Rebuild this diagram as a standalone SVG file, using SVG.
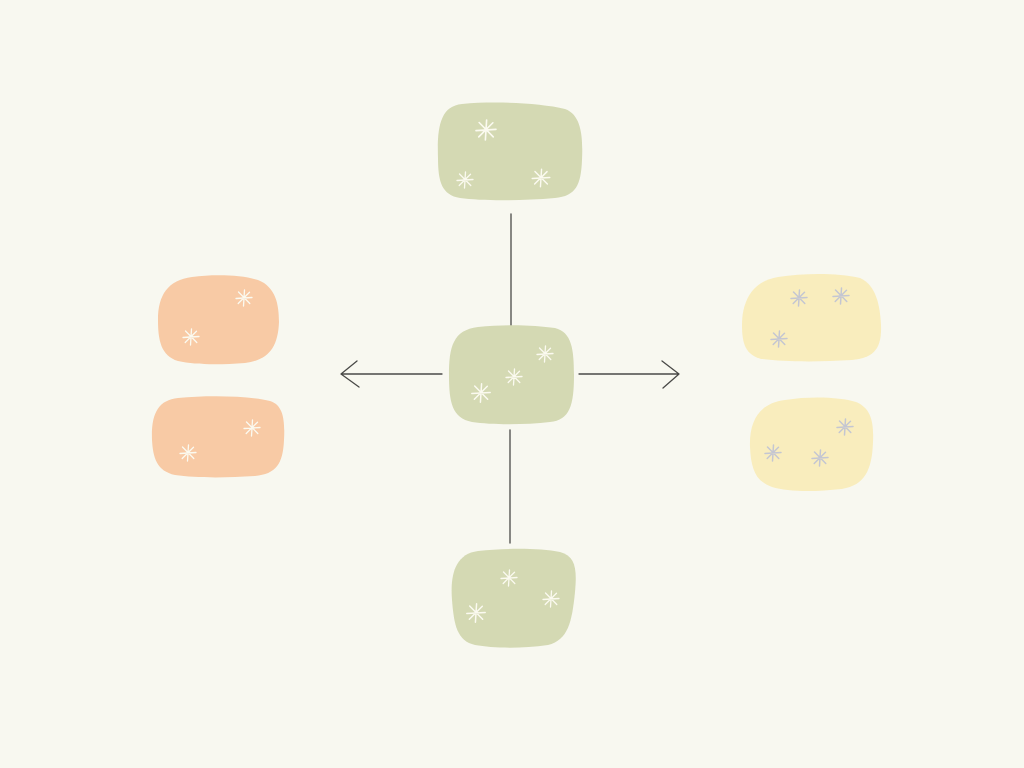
<svg xmlns="http://www.w3.org/2000/svg" xmlns:xlink="http://www.w3.org/1999/xlink" width="1024" height="768" viewBox="0 0 1024 768">
<defs>
<style>
.green{fill:#d4d9b3}
.orange{fill:#f8caa5}
.yellow{fill:#f9edbd}
.sp{stroke:#fbfaf0;stroke-width:1.3;stroke-linecap:round;fill:none}
.spg{stroke:#c4c6d2;stroke-width:1.5;stroke-linecap:round;fill:none}
.conn{stroke:#4a4a48;stroke-width:1.3;fill:none;stroke-linecap:round;stroke-linejoin:round}
</style>
<g id="star">
<path d="M0.5 -8 L-0.5 8 M-8 0.5 L8 -0.5 M-5.5 -6 L5.8 5.5 M-5.8 5.5 L5.5 -5.8"/>
</g>
</defs>
<rect width="1024" height="768" fill="#f8f8f0"/>

<g id="connectors">
<line class="conn" x1="511" y1="214" x2="511" y2="326"/>
<line class="conn" x1="510" y1="430" x2="510" y2="543"/>
<path class="conn" d="M442 374 L341 374 M357 361 L341 374 L359 387"/>
<path class="conn" d="M579 374 L679 374 M662 361 L679 374 L663 388"/>
</g>

<g id="node-top">
<path class="green" d="M462 104 C495 101 540 103 565 109 C582 115 583 138 582 160 C581 185 576 196 555 198 C520 201 482 201 460 198 C442 195 438 182 438 158 C437 128 440 106 462 104 Z"/>
<g class="sp"><use xlink:href="#star" transform="translate(486 130) scale(1.25)"/><use xlink:href="#star" transform="translate(465 180)"/><use xlink:href="#star" transform="translate(541 178) scale(1.1)"/></g>
</g>

<g id="node-center">
<path class="green" d="M478 327 C505 324 535 325 555 328 C572 332 574 350 574 375 C574 405 570 420 550 422 C525 425 492 425 472 422 C452 418 449 402 449 375 C449 347 453 330 478 327 Z"/>
<g class="sp"><use xlink:href="#star" transform="translate(545 354)"/><use xlink:href="#star" transform="translate(514 377)"/><use xlink:href="#star" transform="translate(481 393) scale(1.15)"/></g>
</g>

<g id="node-bottom">
<path class="green" d="M478 551 C505 548 540 548 560 552 C576 556 577 570 575 592 C572 622 568 640 548 645 C520 649 492 648 475 645 C457 641 454 625 452 600 C450 575 455 554 478 551 Z"/>
<g class="sp"><use xlink:href="#star" transform="translate(509 578)"/><use xlink:href="#star" transform="translate(551 599)"/><use xlink:href="#star" transform="translate(476 613) scale(1.15)"/></g>
</g>

<g id="node-left-top">
<path class="orange" d="M192 277 C215 274 242 275 258 280 C276 287 279 305 279 322 C278 348 268 360 245 363 C220 365 195 365 178 361 C161 356 158 340 158 320 C158 295 168 280 192 277 Z"/>
<g class="sp"><use xlink:href="#star" transform="translate(244 298)"/><use xlink:href="#star" transform="translate(191 337)"/></g>
</g>

<g id="node-left-bottom">
<path class="orange" d="M178 398 C210 395 250 396 270 401 C284 405 285 422 284 440 C283 464 276 474 255 476 C225 478 195 478 175 475 C157 471 153 458 152 440 C151 414 158 400 178 398 Z"/>
<g class="sp"><use xlink:href="#star" transform="translate(252 428)"/><use xlink:href="#star" transform="translate(188 453)"/></g>
</g>

<g id="node-right-top">
<path class="yellow" d="M778 277 C805 273 838 273 860 278 C876 285 880 305 881 325 C882 350 873 358 852 360 C820 362 785 362 762 359 C745 355 742 343 742 325 C742 300 753 281 778 277 Z"/>
<g class="spg"><use xlink:href="#star" transform="translate(799 298)"/><use xlink:href="#star" transform="translate(841 296)"/><use xlink:href="#star" transform="translate(779 339)"/></g>
</g>

<g id="node-right-bottom">
<path class="yellow" d="M785 400 C810 396 840 397 856 402 C871 408 874 422 873 442 C872 470 865 485 842 489 C815 492 788 492 772 487 C755 481 751 468 750 447 C749 420 760 403 785 400 Z"/>
<g class="spg"><use xlink:href="#star" transform="translate(845 427)"/><use xlink:href="#star" transform="translate(773 453)"/><use xlink:href="#star" transform="translate(820 458)"/></g>
</g>
</svg>
